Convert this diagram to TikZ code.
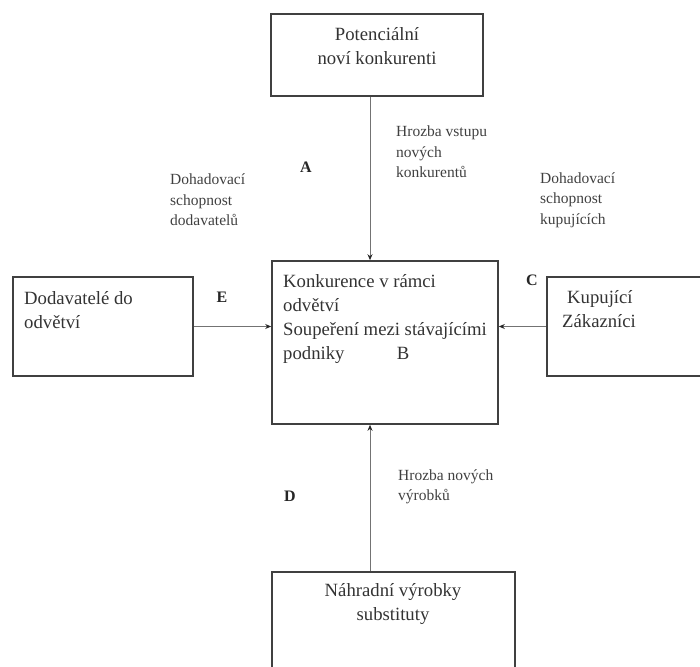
\documentclass[tikz,border=0pt]{standalone}
\usepackage{fontspec}
\setmainfont{Liberation Serif}
\usetikzlibrary{positioning,arrows.meta}

\begin{document}
\begin{tikzpicture}[x=1pt, y=-1pt,
  box/.style={draw=black!75, line width=1.6pt, inner sep=0pt},
  txt/.style={text=black!80, inner sep=0pt, align=left, font=\fontsize{18.7}{24}\selectfont},
  note/.style={text=black!75, inner sep=0pt, align=left, font=\fontsize{15.5}{20.5}\selectfont},
  letter/.style={text=black!85, inner sep=0pt, font=\fontsize{16}{16}\selectfont\bfseries},
  arr/.style={draw=black!55, line width=1pt, -{Stealth[length=6pt,width=5pt,color=black!85]}}]
  \useasboundingbox (0,0) rectangle (700,666);
  \clip (0,0) rectangle (700,666);
  % boxes
  \node[box, minimum width=212pt, minimum height=82pt]  (pot)  at (377,55)    {};
  \node[box, minimum width=226pt, minimum height=163pt] (konk) at (385,342.5) {};
  \node[box, minimum width=180pt, minimum height=99pt]  (dod)  at (103,326.5) {};
  \node[box, minimum width=213pt, minimum height=99pt]  (kup)  at (653.5,326.5) {};
  \node[box, minimum width=243pt, minimum height=128pt] (nah)  at (393.5,636) {};
  % box texts
  \node[txt, align=center] (potT) at (377,46) {Potenciální\\noví konkurenti};
  \node[txt, anchor=west] (konkT) at (283,319)
    {Konkurence v rámci\\odvětví\\Soupeření mezi stávajícími\\podniky\hspace{2.8em}B};
  \node[txt, anchor=west] (dodT) at (24,310) {Dodavatelé do\\odvětví};
  \node[txt, anchor=west] (kupT) at (562,309) {\hspace{5pt}Kupující\\Zákazníci};
  \node[txt, align=center] (nahT) at (393,604) {Náhradní výrobky\\substituty};
  % side notes
  \node[note, anchor=west] (vstup) at (396,152) {Hrozba vstupu\\nových\\konkurentů};
  \node[note, anchor=west] (dohD) at (170,200) {Dohadovací\\schopnost\\dodavatelů};
  \node[note, anchor=west] (dohK) at (540,200) {Dohadovací\\schopnost\\kupujících};
  \node[note, anchor=west] (vyrob) at (398,487) {Hrozba nových\\výrobků};
  % letters
  \node[letter] (A) at (306,167) {A};
  \node[letter] (E) at (222,297) {E};
  \node[letter] (C) at (532,280) {C};
  \node[letter] (D) at (290,496) {D};
  % arrows
  \coordinate (ax) at (370,0);
  \draw[arr] (pot.south -| ax) -- (konk.north -| ax);
  \draw[arr] (nah.north -| ax) -- (konk.south -| ax);
  \draw[arr] (dod.east) -- (konk.west |- dod.east);
  \draw[arr] (kup.west) -- (konk.east |- kup.west);
\end{tikzpicture}
\end{document}
